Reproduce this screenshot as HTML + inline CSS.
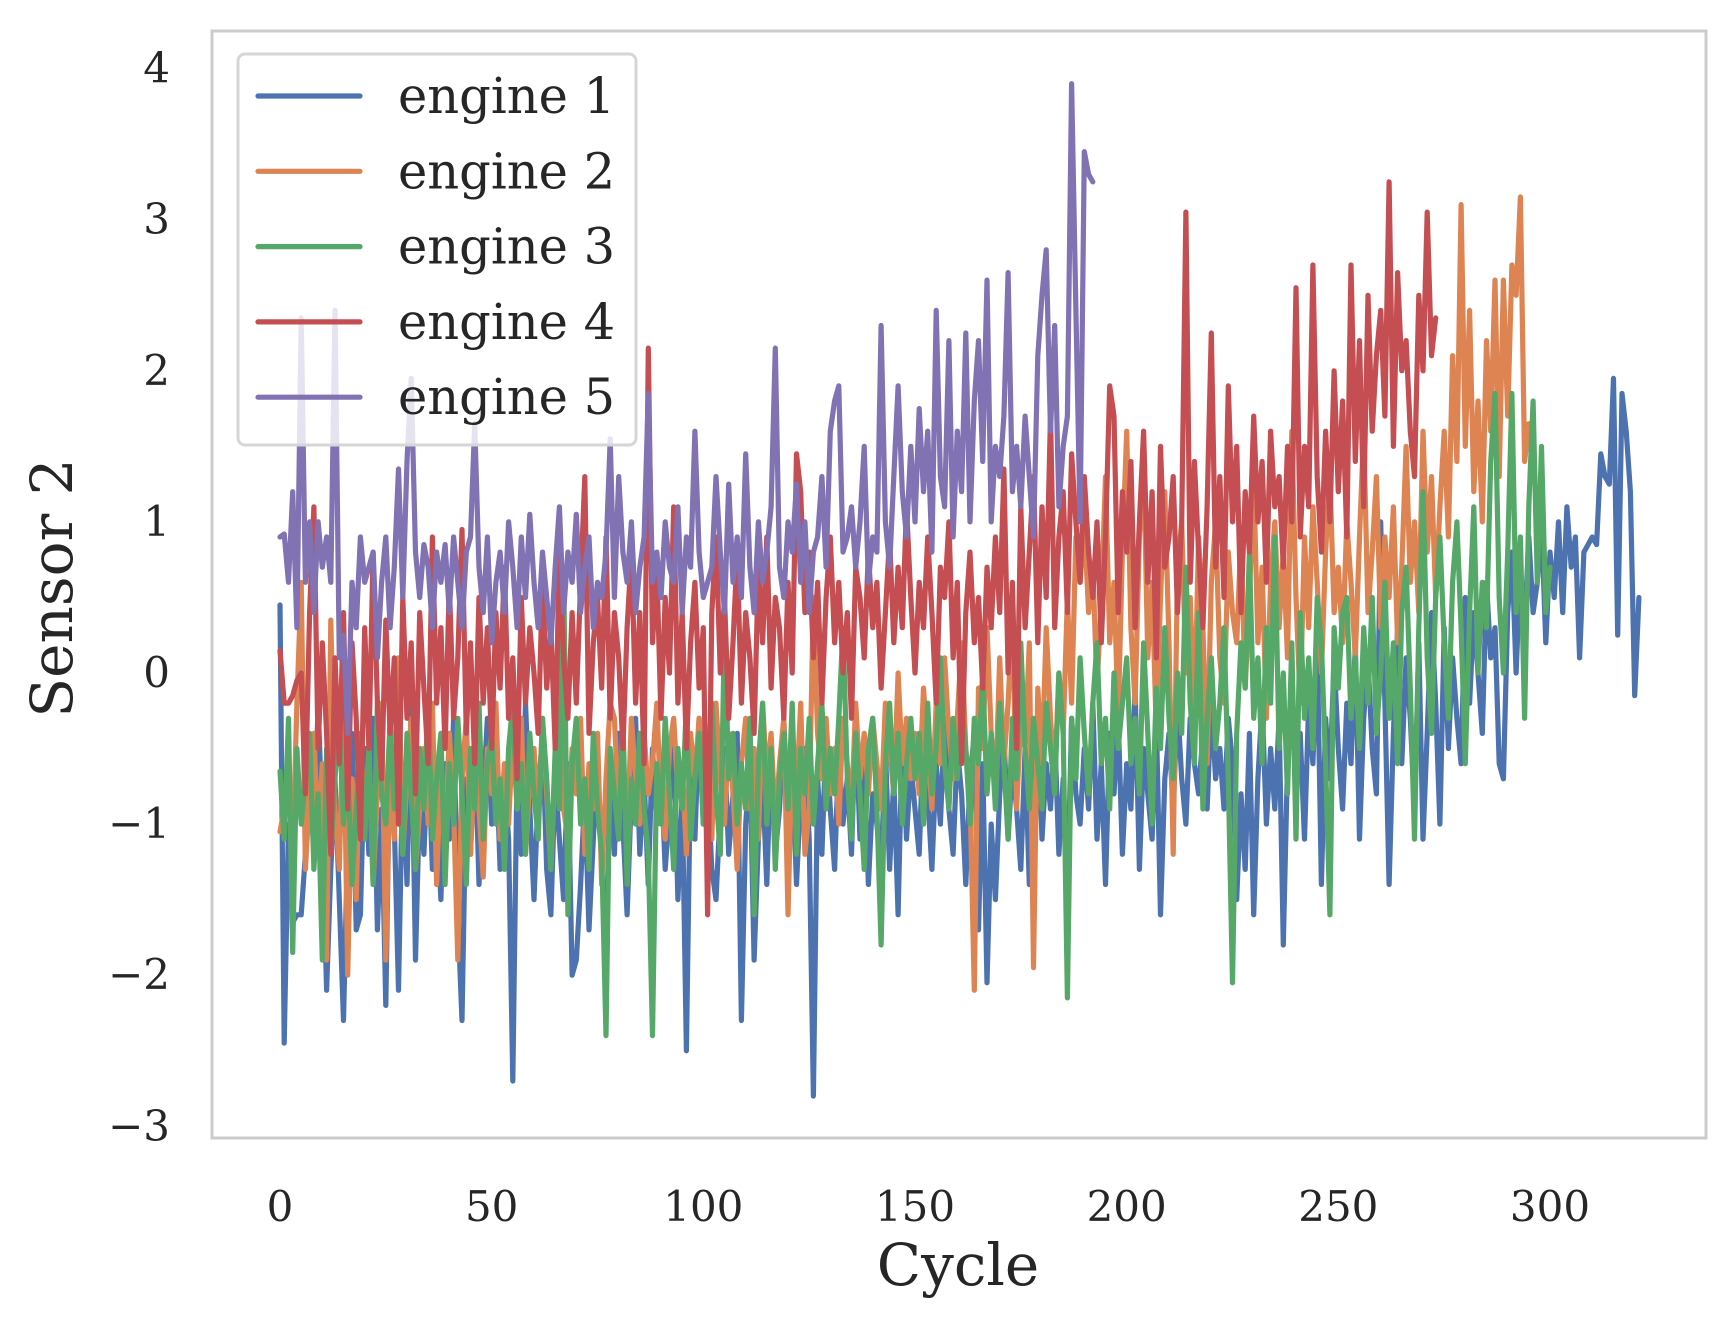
<!DOCTYPE html>
<html><head><meta charset="utf-8">
<style>
html,body{margin:0;padding:0;background:#fff;}
svg{display:block;font-family:"DejaVu Serif","Liberation Serif",serif;}
</style></head>
<body>
<svg id="chart" width="1730" height="1329" viewBox="0 0 1730 1329">
  <rect x="0" y="0" width="1730" height="1329" fill="#fff"/>
  <g id="series"></g>
  <rect x="212" y="31" width="1494" height="1107" fill="none" stroke="#cccccc" stroke-width="3"/>
  <g id="xticks"></g>
  <g id="yticks"></g>
  <text x="958" y="1285" font-size="58" text-anchor="middle" fill="#262626">Cycle</text>
  <text x="0" y="0" font-size="58" text-anchor="middle" fill="#262626" transform="translate(72,588) rotate(-90)">Sensor 2</text>
  <g id="legend"></g>
</svg>
<script>
const xTicks = [0, 50, 100, 150, 200, 250, 300];
const yTicks = [-3, -2, -1, 0, 1, 2, 3, 4];
const seriesNames = ["engine 1", "engine 2", "engine 3", "engine 4", "engine 5"];
const e1 = [0.45,-2.45,-1.0,-1.65,-1.6,-1.6,-1.2,-0.6,-1.2,-0.2,
-1.0,-2.1,-1.3,-0.7,-1.5,-2.3,-1.1,-0.4,-1.7,-1.6,
-0.5,-1.2,-0.3,-1.7,-0.9,-2.2,-0.4,-1.0,-2.1,-0.6,
-1.4,-0.2,-1.9,-0.8,-1.2,-0.5,-1.3,-0.9,-1.5,-0.6,
-1.1,-0.3,-1.6,-2.3,-0.7,-1.2,-0.4,-1.4,-0.8,-0.3,
-1.0,-0.5,-1.3,-0.7,-1.1,-2.7,-0.6,-1.2,-0.2,-0.9,
-1.5,-0.8,-0.4,-1.3,-1.6,-0.7,-1.1,-1.5,-0.6,-2.0,
-1.9,-1.4,-0.8,-1.7,-1.1,-0.5,-1.3,-1.8,-0.7,-1.2,
-0.4,-1.0,-1.6,-0.8,-0.3,-1.2,-0.7,-1.4,-0.5,-1.0,
-0.6,-1.3,-0.9,-0.4,-1.5,-0.8,-2.5,-0.6,-1.1,-0.3,
-1.0,-0.7,-1.3,-1.5,-0.9,-0.5,-1.2,-0.8,-0.4,-2.3,
-1.0,-0.6,-1.9,-1.1,-0.7,-1.4,-0.5,-1.2,-0.9,-0.3,
-1.0,-0.6,-1.4,-0.8,-0.5,-1.1,-2.8,-0.7,-1.2,-0.4,
-0.9,-1.3,-0.5,-1.0,-0.7,-1.2,-0.3,-1.1,-0.6,-1.4,
-0.8,-1.0,-1.3,-0.5,-1.3,-0.7,-1.6,-0.4,-1.1,-0.6,
-0.9,-1.2,-0.4,-0.8,-1.3,-0.6,-1.0,-0.3,-0.9,-1.2,
-0.5,-0.8,-1.4,-0.7,-0.4,-1.7,-0.6,-2.05,-1.0,-1.5,
-0.8,-0.4,-1.1,-0.6,-0.9,-1.3,-0.5,-1.4,-0.7,-0.3,
-1.1,-0.6,-0.9,-0.4,-1.2,-0.7,-1.5,-0.3,-0.8,-1.0,
-0.5,-0.9,-0.2,-1.1,-0.6,-1.4,-0.4,-0.8,-0.3,-1.2,
-0.6,-0.9,-0.1,-1.3,-0.5,-0.8,-1.1,-0.3,-1.6,-0.7,
-0.4,-0.9,-0.2,-0.7,-1.0,-0.3,-0.6,-0.8,-0.4,-0.9,
-0.2,-0.7,-0.5,-0.9,-0.3,-0.6,-1.5,-0.8,-1.3,-0.4,
-1.6,-0.7,-0.2,-1.0,-0.5,-0.9,-0.3,-1.8,-0.6,-0.1,
-0.8,-0.4,-1.1,-0.2,-0.6,0.2,-1.4,-0.3,-0.7,0.1,
-0.5,-0.9,-0.2,-0.6,0.2,-1.1,-0.3,0.1,-0.5,-0.8,
1.0,-0.2,-1.4,-0.4,0.3,-0.6,0.1,-0.3,-0.9,0.2,
-1.1,-0.4,0.4,-0.2,-1.0,0.3,-0.5,0.1,-0.3,-0.6,
0.5,-0.2,0.4,0.0,-0.4,0.6,0.1,0.3,-0.6,-0.7,
0.4,0.8,0.0,0.7,0.3,0.9,0.4,0.6,1.0,0.2,
0.8,0.5,1.0,0.4,1.1,0.7,0.9,0.1,0.8,0.85,
0.9,0.85,1.45,1.3,1.25,1.95,0.25,1.85,1.6,1.2,-0.15,0.5];
const e2 = [-1.05,-0.9,-0.7,-1.2,-0.2,0.6,-1.3,-0.8,-0.4,-1.1,
-0.6,-1.9,0.35,-0.9,-1.3,-0.2,-2.0,-0.7,-1.5,-0.4,
-1.0,-0.5,-1.4,-0.8,-0.2,-1.9,-0.6,-1.1,0.1,-1.2,
-0.7,-0.3,-1.3,-0.9,-0.5,-1.0,-0.2,-1.4,-0.6,-1.1,
-0.4,-0.9,-1.9,-0.7,-0.3,-1.2,-0.6,-0.9,-1.35,-0.5,
-0.8,-0.2,-1.1,-0.6,-1.0,-0.4,-0.9,-0.3,-1.2,-0.7,
-0.5,-1.0,-0.3,-0.8,-1.3,-0.6,-0.2,-0.9,-1.1,-0.5,
-0.8,-0.3,-1.2,-0.6,-0.9,-0.4,-1.4,-0.7,-0.2,-0.3,
-0.9,-0.5,-1.1,-0.3,-0.7,-1.0,-0.4,-0.8,-0.6,-0.2,
-0.9,-1.1,-0.5,-0.3,-0.8,-0.6,-1.2,-0.4,-0.7,-0.3,
-0.9,-0.5,-1.1,-0.2,-0.7,-1.0,-0.4,-0.8,-1.3,-0.6,
-0.3,-0.9,-0.5,-1.1,-0.2,-0.7,-0.4,-1.0,-0.6,-0.3,
-1.6,-0.5,-0.8,-0.2,-1.2,-0.9,0.5,-0.4,-0.7,-0.3,
-0.8,-0.5,-1.0,-0.3,-0.6,-0.9,-0.2,-0.7,-0.4,-0.8,
-0.3,-0.6,-0.9,-0.2,-0.5,-0.8,0.0,-0.6,-0.3,-0.7,
-0.4,-0.8,-0.1,-0.5,-0.9,-0.2,-0.6,0.1,-0.4,-0.7,
-0.3,0.2,-0.5,-0.8,-2.1,-0.1,-0.5,0.3,-0.4,-0.8,
0.1,-0.6,-0.2,0.4,-0.9,-0.3,-0.5,0.2,-1.95,-0.1,
-0.6,0.3,-0.3,-0.7,0.0,-0.4,0.5,-0.2,0.9,0.6,
1.0,0.4,0.7,-0.1,0.5,1.3,0.2,0.6,-0.3,0.8,
1.6,0.3,-0.2,0.9,1.4,0.1,0.6,-0.4,0.5,1.2,
0.2,-1.2,0.7,1.0,0.0,0.5,-0.3,0.9,0.3,-0.6,
0.6,1.0,0.1,-0.2,0.8,0.4,0.2,0.9,-0.1,0.5,
1.3,0.2,0.7,-0.3,0.6,1.0,0.3,0.8,0.1,1.6,
0.5,-0.2,0.9,0.3,1.1,0.6,0.0,0.8,1.3,0.4,
0.7,0.2,1.0,0.6,0.1,0.9,1.6,0.4,0.8,1.3,
0.3,0.9,0.5,1.1,0.2,0.7,1.5,0.6,1.0,0.4,
1.6,0.8,1.3,0.5,1.1,1.6,0.9,2.1,1.4,3.1,
1.5,2.4,1.2,1.8,1.0,2.2,1.6,2.6,1.3,2.6,
1.7,2.7,2.5,3.15,1.4,1.65,1.6];
const e3 = [-0.65,-1.1,-0.3,-1.85,-0.5,-1.0,-0.7,-0.4,-1.3,-0.8,
-1.9,-0.5,-1.2,-0.7,-0.3,-1.0,-0.6,-1.4,-0.9,-0.4,
-1.1,-0.5,-1.4,-0.2,-0.8,-1.0,-0.3,-0.9,-0.6,-1.2,
-0.4,-0.8,-1.3,-0.5,-0.9,-0.2,-1.1,-0.7,-0.4,-1.4,
-0.6,-1.0,-0.3,-0.8,-1.4,-0.5,-0.9,-0.2,-1.1,-0.6,
-0.4,-1.0,-0.7,-1.3,-0.5,-0.2,-0.9,-0.6,-1.2,-0.4,
-0.8,-1.1,-0.3,-0.7,-1.3,-0.5,-0.9,0.7,-1.6,-0.6,
-0.3,-1.0,-0.7,-1.3,-0.4,-0.9,-1.2,-2.4,-0.5,-0.8,
-1.1,-0.3,-1.4,-0.7,-1.0,-0.4,-0.9,-1.2,-2.4,-0.6,
-1.0,-0.3,-0.8,-1.3,-0.5,-0.9,-0.2,-1.1,-0.7,-0.4,
-1.0,-0.6,-0.2,-0.8,-1.2,0.3,-0.7,-0.4,-1.0,-0.6,
-0.9,-0.3,-1.6,-0.6,-0.2,-1.0,-0.5,-1.3,-0.7,-0.4,
-0.9,-0.2,-1.2,-0.5,-0.8,-0.3,-1.0,-0.6,-0.2,-0.9,
-0.5,-0.8,-0.3,0.3,-0.7,-1.1,-0.4,-0.8,-1.3,-0.5,
-0.3,-0.9,-1.8,-0.6,-0.2,-0.8,-0.4,-1.0,-0.6,-0.3,
-0.7,-0.4,-1.0,-0.2,-0.8,-0.5,0.1,-0.6,-0.9,-0.3,
-0.7,-0.2,-0.5,-1.0,-0.3,-0.6,0.0,-0.8,-0.4,-0.9,
-0.2,-0.6,-1.1,-0.3,-0.7,0.2,-0.5,-0.9,-0.3,-0.6,
-0.9,-0.2,-0.5,-0.8,0.0,-0.4,-2.15,-0.3,-0.7,0.1,
-0.4,-0.8,-0.2,0.2,-0.6,-0.3,-0.9,0.0,-0.5,-0.2,
0.1,-0.6,-0.3,-0.8,0.2,-0.4,-1.0,-0.1,-0.5,0.3,
-0.3,-0.7,0.0,-0.4,0.7,-0.2,-0.6,0.4,-0.9,-0.3,
0.1,-0.5,-0.2,0.3,-0.7,-2.05,-0.4,0.2,-0.1,0.8,
-0.3,0.1,-0.6,0.3,-0.2,0.9,-0.5,0.0,-0.8,0.2,
-1.1,0.4,-0.3,0.1,-0.5,0.5,0.2,-0.6,-1.6,0.3,
-0.1,0.4,0.5,-0.3,0.1,-0.5,0.3,-0.2,0.5,-0.4,
0.0,0.6,-0.3,0.2,-0.6,0.4,0.7,-0.1,-1.1,0.3,
1.2,0.1,-0.4,0.5,0.9,0.2,-0.3,0.6,1.0,0.3,
-0.6,0.4,1.1,0.0,0.6,0.3,1.4,1.85,0.5,0.0,
0.8,1.85,0.4,0.9,-0.3,1.1,1.8,0.6,1.5,0.4,0.7];
const e4 = [0.15,-0.2,-0.2,-0.15,-0.05,0.0,-0.8,0.4,1.1,-0.5,
0.2,-0.4,-1.2,0.1,-0.6,0.4,-0.9,0.2,-0.3,-1.1,
0.3,-0.5,0.8,-0.2,-0.7,0.35,-0.4,0.1,-1.0,0.5,
-0.3,0.2,-0.8,0.4,-0.1,-0.6,0.9,-0.2,0.3,-0.5,
0.6,-0.3,0.1,0.95,-0.4,0.2,-0.6,0.5,-0.2,0.3,
-0.5,0.4,-0.1,0.7,-0.3,0.1,-0.7,0.5,-0.2,0.3,
0.0,-0.4,0.6,-0.1,0.3,-0.5,0.8,0.1,-0.3,0.4,
-0.2,0.6,1.3,-0.4,0.2,0.5,-0.1,0.9,-0.3,0.4,
0.1,-0.5,0.3,0.8,-0.2,0.4,-0.6,2.15,0.2,0.7,
-0.3,0.5,0.0,1.1,-0.2,0.4,-0.5,0.2,0.6,-0.1,
0.3,-1.6,0.4,0.9,0.0,0.5,-0.3,0.2,0.8,-0.2,
0.4,0.1,-0.4,0.7,0.2,0.9,-0.1,0.5,0.3,-0.3,
0.6,0.0,1.45,1.2,0.4,0.8,0.1,0.6,-0.2,0.5,
0.9,0.2,0.6,0.0,0.4,-0.3,0.7,0.5,0.1,0.8,
0.3,0.6,-0.1,0.4,0.9,0.2,0.7,0.3,1.1,0.5,
0.0,0.6,0.3,0.9,0.4,-0.2,0.7,0.5,1.0,0.1,
0.6,-0.6,0.4,0.8,0.2,0.5,-0.1,0.7,0.3,0.9,
0.4,1.35,0.0,0.6,-0.5,1.1,0.3,0.8,1.3,0.2,
1.1,0.5,1.7,0.3,0.9,1.2,0.4,1.45,1.0,0.6,
1.3,0.8,0.5,1.0,0.2,0.9,1.9,1.7,0.4,1.2,
0.8,1.4,0.3,1.0,1.6,0.6,1.2,0.1,1.5,0.7,
0.9,1.3,0.4,1.0,3.05,0.6,1.4,0.8,0.3,1.1,
2.25,0.7,1.3,0.5,1.9,1.0,1.5,0.4,1.2,0.8,
1.7,1.0,1.4,0.6,1.6,1.1,1.3,0.7,1.5,1.0,
2.55,0.9,1.5,1.1,2.7,1.3,0.8,1.6,1.0,2.0,
1.2,1.8,0.9,2.7,1.4,2.2,1.1,2.5,1.6,2.1,
2.4,1.7,3.25,1.5,2.65,2.0,2.2,1.6,1.3,2.5,
2.0,3.05,2.1,2.35];
const e5 = [0.9,0.92,0.6,1.2,0.3,2.35,0.6,1.0,0.4,1.0,
0.7,0.9,0.6,2.4,0.1,0.25,-0.4,0.6,0.3,0.9,
0.6,0.7,0.8,0.1,0.6,0.9,0.3,0.7,1.35,0.5,
1.4,1.95,0.8,0.5,0.85,0.7,0.3,0.8,0.6,0.85,
0.4,0.9,0.6,0.3,0.8,0.9,1.65,0.7,0.4,0.9,
0.2,0.6,0.8,0.4,1.0,0.7,0.3,0.9,0.5,1.05,
0.6,0.3,0.8,0.5,0.2,0.7,1.1,0.4,0.8,0.6,
1.05,0.4,0.7,0.9,0.3,0.6,0.5,0.8,1.55,0.5,
1.3,0.8,0.6,1.0,0.4,0.7,0.9,1.85,0.6,0.8,
0.5,1.0,0.7,0.6,1.1,0.4,0.9,0.7,1.6,0.8,
0.5,0.6,0.7,1.3,0.8,0.4,1.25,0.6,0.9,0.5,
1.45,0.7,0.4,1.0,0.6,0.8,1.1,2.15,0.7,0.5,
1.0,0.8,1.25,0.6,1.0,0.4,0.8,0.9,1.3,0.7,
1.6,1.8,1.9,0.8,0.9,1.1,0.7,1.0,1.5,0.6,
0.9,0.8,2.3,1.0,0.7,1.3,1.9,1.2,0.9,1.5,
1.0,1.75,1.2,1.6,0.8,2.4,1.3,1.1,2.2,0.9,
1.6,1.2,2.25,1.0,1.8,2.2,1.4,2.6,1.0,1.5,
1.3,1.7,2.65,1.2,1.5,1.1,1.7,1.3,0.9,2.1,
2.5,2.8,1.6,2.3,1.1,1.5,1.7,3.9,2.4,1.0,
3.45,3.3,3.25];
const seriesValues = [e1, e2, e3, e4, e5];
const seriesColors = ["#4c72b0", "#dd8452", "#55a868", "#c44e52", "#8172b3"];

const NS = "http://www.w3.org/2000/svg";
function xScale(c) { return 280 + c * (1550 - 280) / 300; }
function yScale(v) { return 673 - v * 151.1; }

const gS = document.getElementById("series");
seriesValues.forEach(function (vals, i) {
  const d = vals.map(function (v, c) { return (c ? "L" : "M") + xScale(c).toFixed(1) + "," + yScale(v).toFixed(1); }).join("");
  const p = document.createElementNS(NS, "path");
  p.setAttribute("d", d);
  p.setAttribute("fill", "none");
  p.setAttribute("stroke", seriesColors[i]);
  p.setAttribute("stroke-width", "5.2");
  p.setAttribute("stroke-linejoin", "round");
  p.setAttribute("stroke-linecap", "round");
  
  
  gS.appendChild(p);
});

const gX = document.getElementById("xticks");
xTicks.forEach(function (t) {
  const tx = document.createElementNS(NS, "text");
  tx.setAttribute("x", xScale(t));
  tx.setAttribute("y", 1221);
  tx.setAttribute("font-size", "42");
  tx.setAttribute("text-anchor", "middle");
  tx.setAttribute("fill", "#262626");
  tx.textContent = String(t);
  
  
  gX.appendChild(tx);
});
const gY = document.getElementById("yticks");
yTicks.forEach(function (t) {
  const ty = document.createElementNS(NS, "text");
  ty.setAttribute("x", 170);
  ty.setAttribute("y", yScale(t) + 14);
  ty.setAttribute("font-size", "42");
  ty.setAttribute("text-anchor", "end");
  ty.setAttribute("fill", "#262626");
  ty.textContent = t < 0 ? "\u2212" + Math.abs(t) : String(t);
  
  
  gY.appendChild(ty);
});

const gL = document.getElementById("legend");
const box = document.createElementNS(NS, "rect");
box.setAttribute("x", 238); box.setAttribute("y", 54);
box.setAttribute("width", 398); box.setAttribute("height", 391);
box.setAttribute("rx", 7);
box.setAttribute("fill", "rgba(255,255,255,0.8)");
box.setAttribute("stroke", "#d6d6d6");
box.setAttribute("stroke-width", "3");


gL.appendChild(box);
seriesNames.forEach(function (n, i) {
  const y = 96 + i * 75.3;
  const ln = document.createElementNS(NS, "line");
  ln.setAttribute("x1", 258); ln.setAttribute("x2", 360);
  ln.setAttribute("y1", y); ln.setAttribute("y2", y);
  ln.setAttribute("stroke", seriesColors[i]);
  ln.setAttribute("stroke-width", "5.2");
  ln.setAttribute("stroke-linecap", "round");
  
  
  gL.appendChild(ln);
  const tx = document.createElementNS(NS, "text");
  tx.setAttribute("x", 398);
  tx.setAttribute("y", y + 17);
  tx.setAttribute("font-size", "49.5");
  tx.setAttribute("fill", "#262626");
  tx.textContent = n;
  
  
  gL.appendChild(tx);
});
</script>
</body></html>
